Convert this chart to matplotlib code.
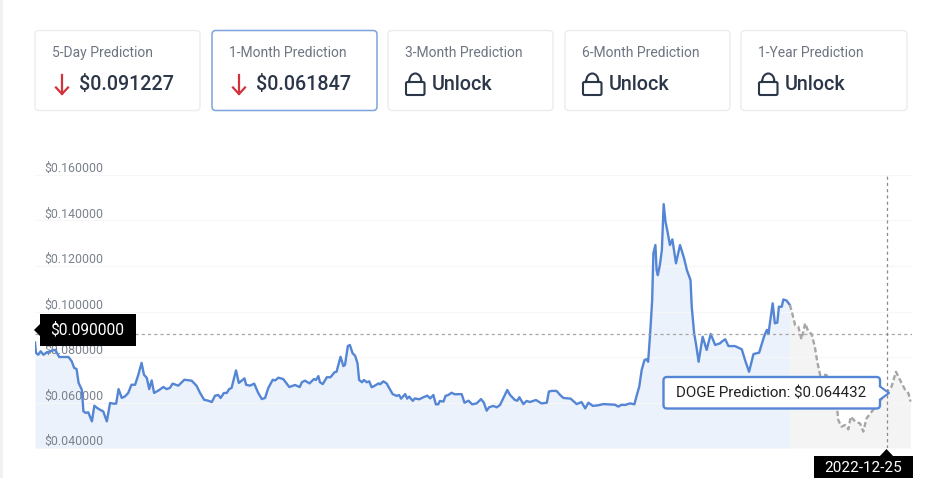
import matplotlib
matplotlib.use("Agg")
import matplotlib.pyplot as plt
from matplotlib.patches import FancyBboxPatch, Rectangle, Polygon, Arc

plt.rcParams["font.family"] = ["Roboto", "DejaVu Sans"]

W, H = 926, 478

# Price history and forecast, as days since 2022-05-28
history_days = [
    0, .25, .8, 1.4, 2.1, 2.9, 3.7, 5.0, 6.0, 7.0, 8.3, 9.1, 9.7, 10.3, 10.8, 11.6, 12.0, 12.6, 13.2, 14.1,
    14.7, 15.4, 16.1, 16.9, 17.8, 18.6, 19.4, 20.1, 20.7, 21.5, 22.3, 23.1, 23.9, 24.8, 25.6, 26.4, 27.0, 27.7, 28.3, 28.9,
    29.5, 30.6, 31.8, 32.6, 33.4, 34.1, 35.5, 37.0, 38.8, 40.0, 40.9, 41.9, 42.9, 43.8, 44.6, 45.4, 46.0, 46.8, 47.5, 48.1,
    48.7, 49.8, 50.5, 51.9, 52.3, 53.3, 54.3, 55.3, 56.2, 57.0, 57.8, 58.9, 59.5, 60.3, 61.5, 63.0, 64.4, 65.6,
    66.1, 66.9, 68.0, 69.1, 69.6, 70.2, 70.6, 71.3, 72.3, 73.2, 74.2, 74.7, 75.7, 76.4, 76.8, 77.5, 78.0, 78.7, 79.3, 79.9,
    80.3, 81.0, 81.5, 82.2, 82.8, 83.4, 84.2, 85.1, 85.5, 86.3, 87.1, 87.8, 88.6, 89.6, 90.2, 90.7, 91.7, 92.2, 92.7, 93.6,
    94.1, 95.2, 96.2, 97.2, 97.9, 98.7, 99.3, 99.9, 100.3, 101.2, 101.7, 102.4, 103.2, 104.0, 105.7, 106.4, 107.4, 108.3, 109.4, 110.5,
    111.2, 111.9, 112.5, 113.5, 114.4, 115.2, 116.0, 117.0, 117.7, 118.9, 119.5, 120.0, 121.0, 121.8, 122.6, 124.1, 125.5, 126.8, 127.3, 128.0,
    129.2, 130.1, 130.9, 132.7, 134.2, 135.4, 136.3, 137.1, 138.2, 139.6, 140.8, 143.7, 144.5, 145.3, 146.2, 147.4, 148.5, 149.1, 149.7, 150.3,
    151.0, 151.5, 151.9,
    152.4, 152.9, 153.2, 153.7, 154.0, 154.3, 154.8, 155.3, 155.75, 156.2, 156.7, 157.3, 157.9, 158.8, 159.8, 160.8, 161.5, 162.4, 162.7, 163.3,
    163.8, 164.4, 165.4, 166.4, 167.4, 168.5, 169.7, 170.1, 171.0, 171.8, 173.4, 175.1, 175.9, 176.9, 178.0, 179.4, 180.6, 181.3, 181.7, 182.75,
    183.3, 183.9, 184.3, 185.0, 185.4, 186.2, 187.0,
]
history_prices = [
    .0864, .0818, .0810, .0825, .0810, .0820, .0825, .0832, .0800, .0800, .0800, .0781, .0752, .0747, .0686, .0656, .0561, .0554, .0557, .0517,
    .0586, .0576, .0568, .0561, .0517, .0598, .0595, .0595, .0659, .0620, .0627, .0642, .0678, .0678, .0722, .0774, .0722, .0708, .0659, .0697,
    .0642, .0653, .0668, .0659, .0664, .0683, .0674, .0700, .0696, .0674, .0642, .0612, .0608, .0602, .0630, .0633, .0620, .0642, .0642, .0659,
    .0664, .0741, .0686, .0706, .0678, .0674, .0683, .0642, .0615, .0620, .0664, .0700, .0697, .0709, .0703, .0668, .0677, .0668,
    .0689, .0696, .0684, .0703, .0699, .0716, .0689, .0681, .0711, .0711, .0733, .0735, .0801, .0760, .0765, .0848, .0853, .0816, .0806, .0772,
    .0699, .0689, .0699, .0689, .0693, .0667, .0674, .0684, .0680, .0693, .0684, .0662, .0637, .0629, .0633, .0617, .0637, .0617, .0626, .0607,
    .0618, .0614, .0623, .0630, .0618, .0633, .0592, .0592, .0607, .0604, .0629, .0633, .0643, .0636, .0637, .0599, .0608, .0592, .0596, .0615,
    .0599, .0564, .0579, .0585, .0579, .0589, .0618, .0655, .0633, .0611, .0608, .0623, .0593, .0607, .0602, .0611, .0596, .0599, .0648, .0651,
    .0651, .0633, .0620, .0617, .0593, .0602, .0574, .0599, .0585, .0588, .0593, .0590, .0582, .0590, .0589, .0596, .0592, .0633, .0670, .0743,
    .0787, .0790, .0779,
    .0904, .1050, .1256, .1292, .1182, .1160, .1204, .1270, .1472, .1395, .1351, .1292, .1317, .1212, .1292, .1234, .1182, .1138, .1021, .0904,
    .0853, .0779, .0889, .0831, .0901, .0853, .0860, .0867, .0878, .0848, .0848, .0834, .0787, .0735, .0813, .0819, .0889, .0919, .0901, .1036,
    .0948, .0951, .1021, .1021, .1053, .1048, .1029,
]
forecast_days = [
    187.0, 187.5, 188.3, 189.1, 189.9, 190.8, 191.6, 192.4, 193.2, 193.8, 194.5, 196.1, 198.6, 199.0, 199.8, 200.7, 201.5, 202.1, 203.2, 204.4,
    205.2, 206.0, 207.3, 208.9, 211.0, 212.2, 213.3, 214.3, 215.5, 216.4, 216.9,
]
forecast_prices = [
    .1029, .0999, .0941, .0933, .0878, .0948, .0911, .0901, .0845, .0779, .0721, .0721, .0596, .0523, .0494, .0501, .0482, .0538, .0516, .0508,
    .0472, .0530, .0560, .0596, .064432, .0670, .0735, .0699, .0658, .0640, .0604,
]

price_ticks = [0.04, 0.06, 0.08, 0.10, 0.12, 0.14, 0.16]
hover_day = 211
hover_date = "2022-12-25"
hover_price = 0.064432
level_price = 0.09

card_titles = ["5-Day Prediction", "1-Month Prediction", "3-Month Prediction", "6-Month Prediction", "1-Year Prediction"]
card_values = ["$0.091227", "$0.061847", "Unlock", "Unlock", "Unlock"]

BLUE = "#5585d5"
INK = "#2b3648"
RED = "#d2323d"
fig = plt.figure(figsize=(W / 100, H / 100), dpi=100, facecolor="white")

# Price chart
ax = fig.add_axes([35 / W, 1 - 448 / H, (912 - 35) / W, (448 - 175) / H])
ax.set_xlim(0, 217.27)
ax.set_ylim(0.04, 0.16)
ax.patch.set_alpha(0)
for side in ax.spines.values():
    side.set_visible(False)
ax.fill_between(history_days, history_prices, 0.04, color="#ebf2fb", lw=0, zorder=1)
ax.fill_between(forecast_days, forecast_prices, 0.04, color="#f4f4f4", lw=0, zorder=1)
ax.plot(history_days, history_prices, color=BLUE, lw=1.7, zorder=3, solid_joinstyle="round")
ax.plot(forecast_days, forecast_prices, color="#a6a6a6", lw=1.7, ls=(0, (2.2, 1.2)), zorder=3)
ax.axhline(level_price, color="#a6a6a6", lw=0.9, ls=(0, (2.5, 2.5)), zorder=4)
ax.axvline(hover_day, color="#8a8a8a", lw=0.9, ls=(0, (2.5, 2.5)), zorder=4)

ax.set_xticks([])
ax.set_yticks(price_ticks)
ax.set_yticklabels([f"${v:.6f}" for v in price_ticks])
ax.grid(axis="y", color="#f7f7f8", lw=0.8)
ax.set_axisbelow(False)
ax.tick_params(axis="y", length=0, pad=-6.5, labelsize=8.9, labelcolor="#7b828d")
for label in ax.get_yticklabels():
    label.set_ha("left")
    label.set_va("bottom")

# Interface layer drawn in pixel units
ui = fig.add_axes([0, 0, 1, 1], zorder=5)
ui.set_xlim(0, W)
ui.set_ylim(H, 0)
ui.axis("off")
ui.patch.set_alpha(0)
ui.add_patch(Rectangle((0, 0), 2.5, H, color="#f1f1f2", lw=0))


def round_box(x0, y0, x1, y1, edge, face="white", lw=1.0, rad=4, z=2):
    ui.add_patch(FancyBboxPatch((x0 + rad, y0 + rad), x1 - x0 - 2 * rad, y1 - y0 - 2 * rad,
                                boxstyle=f"round,pad={rad},rounding_size={rad}",
                                ec=edge, fc=face, lw=lw, zorder=z))


def lock_icon(x):
    ui.add_patch(FancyBboxPatch((x + 1.5, 83.5), 15.5, 10, boxstyle="round,pad=1.5,rounding_size=1.5",
                                ec=INK, fc="none", lw=1.5, zorder=3))
    ui.add_patch(Arc((x + 9.3, 81), 12, 15, theta1=180, theta2=360, ec=INK, lw=1.5, zorder=3))
    ui.plot([x + 3.3, x + 3.3], [81, 82], color=INK, lw=1.5, zorder=3)
    ui.plot([x + 15.3, x + 15.3], [81, 82], color=INK, lw=1.5, zorder=3)


card_left = [35, 212, 388, 565, 741]
card_right = [200, 377, 553, 730, 907]
for i, (title, value) in enumerate(zip(card_titles, card_values)):
    x0, x1 = card_left[i], card_right[i]
    active = i == 1
    round_box(x0, 30.5, x1, 110.5, "#7ea2dc" if active else "#ebecee", lw=1.1 if active else 1.0)
    ui.text(x0 + 17, 53, title, fontsize=10.0, color="#6c7581", va="center", zorder=3)
    if value == "Unlock":
        lock_icon(x0 + 18)
    else:
        ui.plot([x0 + 27, x0 + 27], [75, 94], color=RED, lw=1.6, zorder=3)
        ui.plot([x0 + 21, x0 + 27, x0 + 33], [87.5, 94, 87.5], color=RED, lw=1.6, zorder=3)
    ui.text(x0 + 44, 84, value, fontsize=14.2, fontweight="medium", color=INK, va="center", zorder=3)

# Level flag on the left edge
ui.add_patch(Rectangle((39.5, 314), 96, 32, color="black", lw=0, zorder=6))
ui.add_patch(Polygon([(34, 330), (40, 324), (40, 336)], color="black", lw=0, zorder=6))
ui.text(87, 330, f"${level_price:.6f}", color="white", fontsize=11.2, ha="center", va="center", zorder=7)

# Hover date flag under the crosshair
ui.add_patch(Rectangle((814, 456), 99, 22, color="black", lw=0, zorder=6))
ui.add_patch(Polygon([(886.5, 449), (879, 457), (894, 457)], color="black", lw=0, zorder=6))
ui.text(863, 468, hover_date, color="white", fontsize=11, ha="center", va="center", zorder=7)

# Hover tooltip
round_box(663.5, 377, 880, 408.5, BLUE, lw=1.7, rad=3.5, z=6)
ui.add_patch(Polygon([(878, 386), (889, 393), (878, 400)], fc="white", ec="none", zorder=7))
ui.plot([880, 889, 880], [386.5, 393, 399.5], color=BLUE, lw=1.5, zorder=7)
ui.text(771, 393.5, f"DOGE Prediction: ${hover_price:.6f}", color="#222222", fontsize=10.9,
        ha="center", va="center", zorder=8)

fig.savefig("out.png", dpi=100)
